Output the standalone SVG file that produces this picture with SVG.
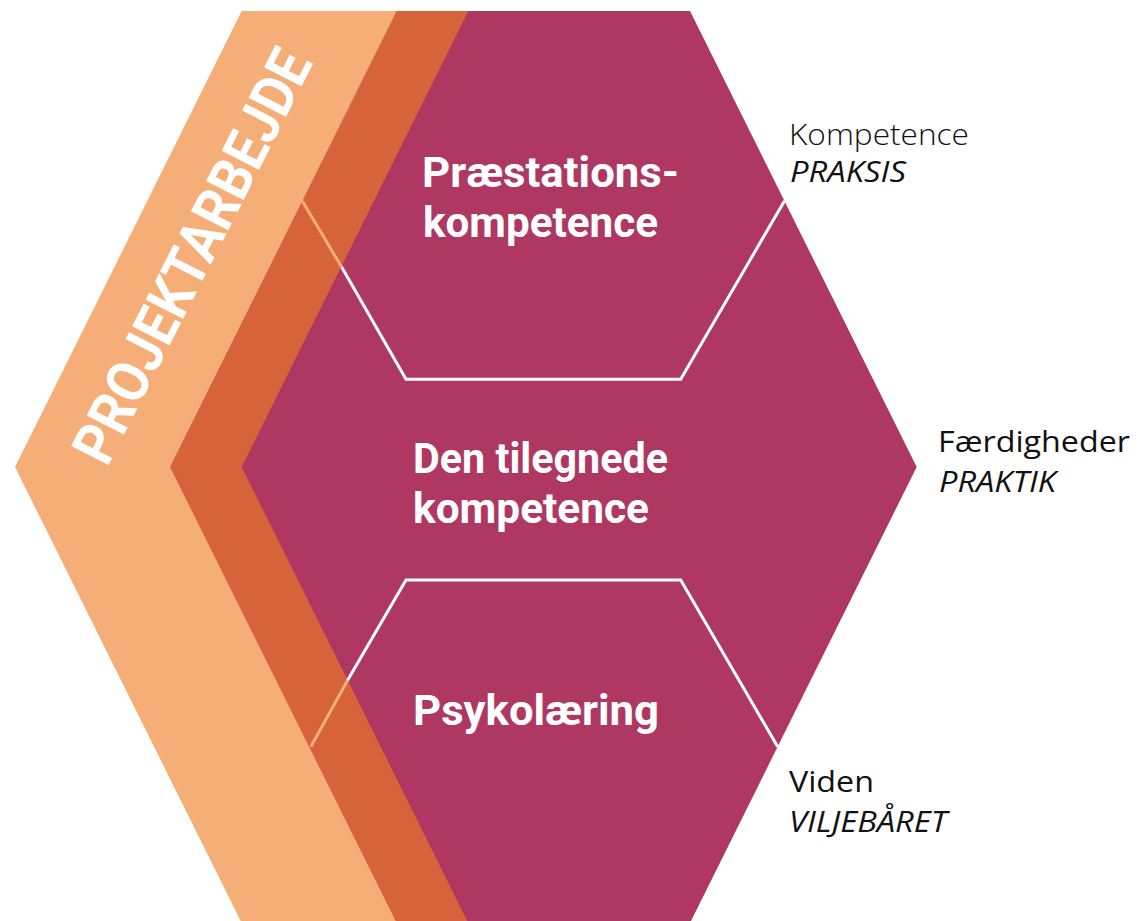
<svg xmlns="http://www.w3.org/2000/svg" width="1138" height="921" viewBox="0 0 1138 921">
  <style>
    .light { fill: #F6AE78; }
    .dark { fill: #D7633A; }
    .mag { fill: #AE3861; }
    .bold { font-family: Roboto, "Open Sans", "Liberation Sans", sans-serif; font-weight: 700; fill: #FFFFFF; }
    .lbl { font-family: "Open Sans", "Noto Sans", "Liberation Sans", sans-serif; font-size: 30px; fill: #111111; }
    .it { font-style: italic; }
    .wline { stroke: #FFFFFF; stroke-width: 3; fill: none; }
    .oline { stroke: #F6AE78; stroke-width: 3; fill: none; }
  </style>
  <rect x="0" y="0" width="1138" height="921" fill="#FFFFFF"/>

  <g id="projektarbejde">
    <polygon class="light" points="241.7,11 472,11 472,923 241.7,923 15,467"/>
    <polygon class="dark" points="396.7,11 472,11 472,923 396.7,923 170,467"/>
    <text class="bold" transform="translate(107,468) rotate(-63)" font-size="59" textLength="455" lengthAdjust="spacingAndGlyphs">PROJEKTARBEJDE</text>
  </g>

  <g id="hexagon">
    <polygon class="mag" points="468.3,11 690,11 916.7,467 690,923 468.3,923 241.7,467"/>
  </g>

  <g id="connectors">
    <polyline class="oline" points="302.3,201 341.8,267.3"/>
    <polyline class="wline" points="341.8,267.3 406,379.3 680.7,379.3 784.4,201"/>
    <polyline class="oline" points="310.8,746.7 347.6,680.3"/>
    <polyline class="wline" points="347.6,680.3 406,580 680.7,580 777.7,746.7"/>
  </g>

  <g id="praestationskompetence">
    <text class="bold" x="422" y="187" font-size="43" textLength="257" lengthAdjust="spacingAndGlyphs">Præstations-</text>
    <text class="bold" x="423" y="237" font-size="43" textLength="235" lengthAdjust="spacingAndGlyphs">kompetence</text>
  </g>

  <g id="den-tilegnede-kompetence">
    <text class="bold" x="413" y="473" font-size="43" textLength="255" lengthAdjust="spacingAndGlyphs">Den tilegnede</text>
    <text class="bold" x="413" y="523" font-size="43" textLength="236" lengthAdjust="spacingAndGlyphs">kompetence</text>
  </g>

  <g id="psykolaering">
    <text class="bold" x="413" y="725" font-size="43" textLength="246" lengthAdjust="spacingAndGlyphs">Psykolæring</text>
  </g>

  <g id="label-kompetence">
    <text class="lbl" x="789" y="145" font-weight="300" font-size="31" textLength="180" lengthAdjust="spacingAndGlyphs">Kompetence</text>
    <text class="lbl it" x="790" y="182" textLength="116" lengthAdjust="spacingAndGlyphs">PRAKSIS</text>
  </g>

  <g id="label-faerdigheder">
    <text class="lbl" x="938" y="452" textLength="192" lengthAdjust="spacingAndGlyphs">Færdigheder</text>
    <text class="lbl it" x="939" y="492" textLength="117" lengthAdjust="spacingAndGlyphs">PRAKTIK</text>
  </g>

  <g id="label-viden">
    <text class="lbl" x="789" y="792" textLength="85" lengthAdjust="spacingAndGlyphs">Viden</text>
    <text class="lbl it" x="789" y="832" textLength="158" lengthAdjust="spacingAndGlyphs">VILJEBÅRET</text>
  </g>
</svg>
